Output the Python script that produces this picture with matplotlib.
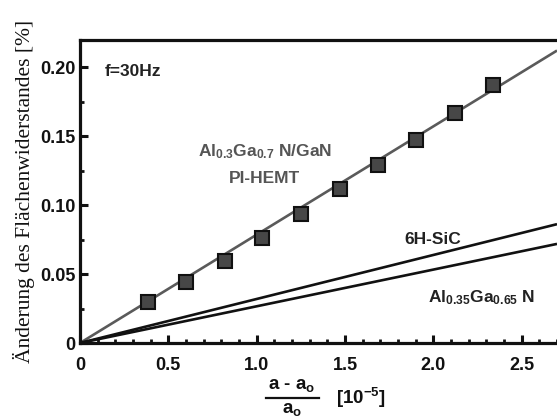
import matplotlib
matplotlib.use("Agg")
import matplotlib.pyplot as plt
import numpy as np
from matplotlib.ticker import MultipleLocator, FixedFormatter, FixedLocator
from matplotlib.lines import Line2D

plt.rcParams['font.family'] = ['Liberation Sans', 'DejaVu Sans']
plt.rcParams['font.weight'] = 'bold'
plt.rcParams['mathtext.fontset'] = 'custom'
plt.rcParams['mathtext.rm'] = 'Liberation Sans:bold'
plt.rcParams['mathtext.it'] = 'Liberation Sans:bold'
plt.rcParams['mathtext.bf'] = 'Liberation Sans:bold'

# Data
strain = [0.384, 0.598, 0.818, 1.033, 1.253, 1.473, 1.687, 1.902, 2.122, 2.336]
hemt_change = [0.0297, 0.0442, 0.0594, 0.0761, 0.0935, 0.1116, 0.1290, 0.1470, 0.1667, 0.1870]
line_names = ['AlGaN/GaN fit', '6H-SiC', 'Al0.35Ga0.65N']
line_slopes = [0.0785, 0.0319, 0.0266]
line_colors = ['#5a5a5a', '#111111', '#111111']
x_ticks = [0, 0.5, 1.0, 1.5, 2.0, 2.5]
x_ticklabels = ['0', '0.5', '1.0', '1.5', '2.0', '2.5']
y_ticks = [0, 0.05, 0.10, 0.15, 0.20]
y_ticklabels = ['0', '0.05', '0.10', '0.15', '0.20']

W, H = 557, 420
fig = plt.figure(figsize=(W/100, H/100), dpi=100)
ax = fig.add_axes([80/W, 77/H, 1 - 80/W, (343-40)/H])

xmax = 2.70
xs = np.array([0, xmax])
for s, c in zip(line_slopes, line_colors):
    ax.plot(xs, s * xs, color=c, lw=1.9, solid_capstyle='butt', zorder=2)

ax.plot(strain, hemt_change, ls='none', marker='s', ms=10.5,
        mfc='#474747', mec='#111111', mew=1.5, zorder=3)

ax.set_xlim(0, xmax)
ax.set_ylim(0, 0.2196)
ax.xaxis.set_major_locator(FixedLocator(x_ticks))
ax.xaxis.set_major_formatter(FixedFormatter(x_ticklabels))
ax.yaxis.set_major_locator(FixedLocator(y_ticks))
ax.yaxis.set_major_formatter(FixedFormatter(y_ticklabels))
ax.xaxis.set_minor_locator(MultipleLocator(0.1))
ax.yaxis.set_minor_locator(MultipleLocator(0.025))

for sp in ['left', 'bottom', 'top']:
    ax.spines[sp].set_linewidth(2.3)
    ax.spines[sp].set_color('#111111')
ax.spines['right'].set_visible(False)

ax.tick_params(which='both', direction='in', top=False, right=False, color='#111111')
ax.tick_params(which='major', length=5.5, width=2.2)
ax.tick_params(which='minor', length=3, width=2)
ax.tick_params(axis='x', which='major', pad=10, labelsize=13)
ax.tick_params(axis='y', which='major', pad=3, labelsize=13)
for lab in ax.get_xticklabels() + ax.get_yticklabels():
    lab.set_fontweight('bold')
    lab.set_color('#111111')

ax.set_ylabel('Änderung des Flächenwiderstandes [%]',
              family=['Liberation Serif', 'DejaVu Serif'], fontweight='normal',
              fontsize=15.5, color='#111111', labelpad=4)

def put(xp, yp, s, **kw):
    fig.text(xp/W, 1 - yp/H, s, **kw)

# x-axis label: fraction (a - a_o)/a_o [10^-5]
put(292, 386, r'a - a$_{\mathrm{o}}$', fontsize=13.5, color='#111111', ha='center', va='center')
fig.add_artist(Line2D([266/W, 319/W], [1 - 398/H, 1 - 398/H], color='#111111', lw=1.6))
put(292, 410, r'a$_{\mathrm{o}}$', fontsize=13.5, color='#111111', ha='center', va='center')
put(361, 398, r'[10$^{-5}$]', fontsize=13.5, color='#111111', ha='center', va='center')

put(105, 72, 'f=30Hz', fontsize=12.5, color='#222222', ha='left', va='center')
put(265, 152, r'Al$_{0.3}$Ga$_{0.7}$ N/GaN', fontsize=12.5, color='#555555', ha='center', va='center')
put(265, 178, 'PI-HEMT', fontsize=12.5, color='#555555', ha='center', va='center')
put(433, 240, '6H-SiC', fontsize=12.5, color='#222222', ha='center', va='center')
put(482, 298, r'Al$_{0.35}$Ga$_{0.65}$ N', fontsize=12.5, color='#222222', ha='center', va='center')

fig.savefig('out.png', dpi=100)
